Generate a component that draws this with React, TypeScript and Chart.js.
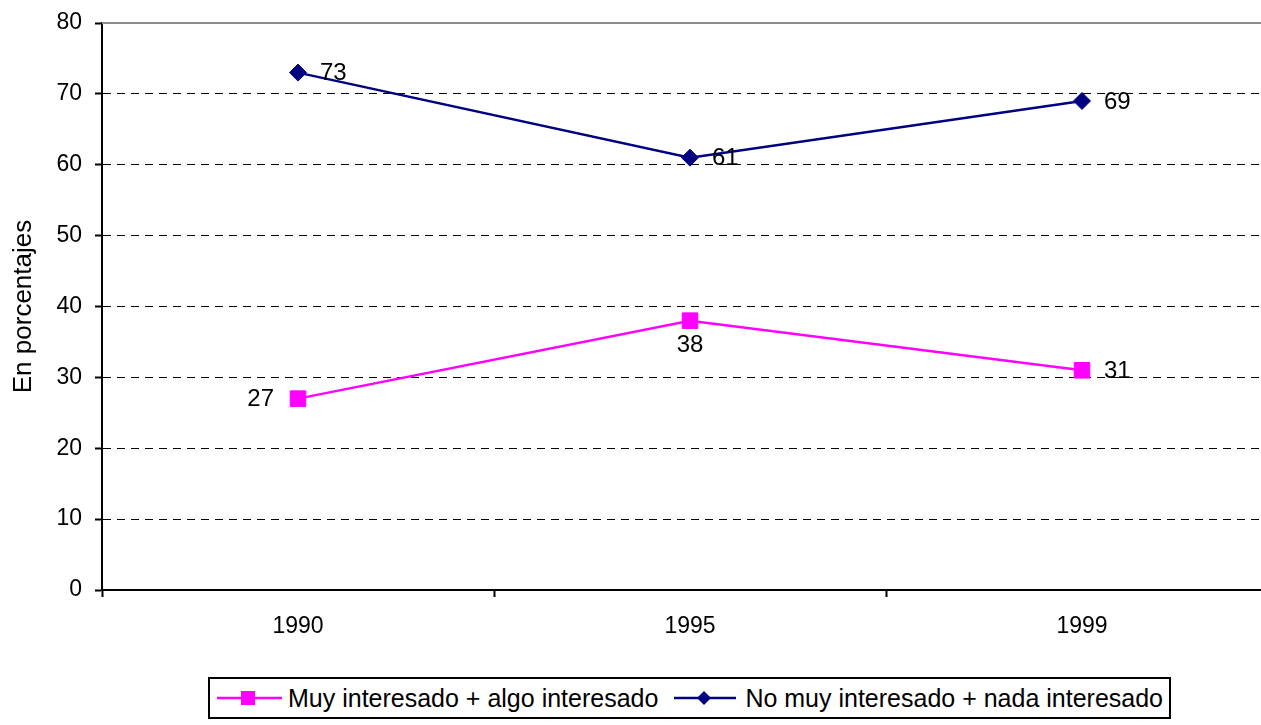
import React, { useEffect, useRef } from 'react';
import { Chart, registerables } from 'chart.js';

Chart.register(...registerables);

const categories = ['1990', '1995', '1999'];
const interesados = [27, 38, 31];
const noInteresados = [73, 61, 69];
const seriesNames = ['Muy interesado + algo interesado', 'No muy interesado + nada interesado'];
const yTitle = 'En porcentajes';
const yMin = 0;
const yMax = 80;
const yStep = 10;

const FONT = '"Liberation Sans", Arial, Helvetica, sans-serif';
const PINK = '#FF00FF';
const NAVY = '#000080';

const labelPlugin = {
  id: 'valueLabels',
  afterDatasetsDraw(chart: any) {
    const ctx = chart.ctx;
    ctx.save();
    ctx.font = `24px ${FONT}`;
    ctx.fillStyle = '#000';
    chart.data.datasets.forEach((ds: any, i: number) => {
      const meta = chart.getDatasetMeta(i);
      const pos: string[] = ds.labelPositions || [];
      meta.data.forEach((pt: any, j: number) => {
        const v = ds.data[j];
        let x = pt.x;
        let y = pt.y;
        const p = pos[j] || 'right';
        ctx.textBaseline = 'middle';
        if (p === 'right') {
          ctx.textAlign = 'left';
          x += 22;
        } else if (p === 'left') {
          ctx.textAlign = 'right';
          x -= 24;
        } else {
          ctx.textAlign = 'center';
          y += 24;
        }
        ctx.fillText(String(v), x, y + 1);
      });
    });
    ctx.restore();
  },
};

const frameTopPlugin = {
  id: 'frameTop',
  beforeDatasetsDraw(chart: any) {
    const { ctx, chartArea } = chart;
    ctx.save();
    ctx.strokeStyle = '#8c8c8c';
    ctx.lineWidth = 2;
    ctx.beginPath();
    ctx.moveTo(chartArea.left, chartArea.top);
    ctx.lineTo(chartArea.right + 20, chartArea.top);
    ctx.stroke();
    ctx.restore();
  },
};

export default function App() {
  const canvasRef = useRef<HTMLCanvasElement | null>(null);

  useEffect(() => {
    if (!canvasRef.current) return;
    const chart = new Chart(canvasRef.current, {
      type: 'line',
      data: {
        labels: categories,
        datasets: [
          {
            label: seriesNames[0],
            data: interesados,
            borderColor: PINK,
            backgroundColor: PINK,
            borderWidth: 2.5,
            pointStyle: 'rect',
            pointRadius: 11,
            pointHoverRadius: 11,
            pointBorderWidth: 1,
            tension: 0,
            labelPositions: ['left', 'below', 'right'],
          } as any,
          {
            label: seriesNames[1],
            data: noInteresados,
            borderColor: NAVY,
            backgroundColor: NAVY,
            borderWidth: 2.5,
            pointStyle: 'rectRot',
            pointRadius: 8.5,
            pointHoverRadius: 8.5,
            pointBorderWidth: 1,
            tension: 0,
            labelPositions: ['right', 'right', 'right'],
          } as any,
        ],
      },
      options: {
        animation: false,
        responsive: true,
        maintainAspectRatio: false,
        events: [],
        layout: { padding: { left: 0, top: 23, right: 9, bottom: 0 } },
        plugins: {
          legend: { display: false },
          tooltip: { enabled: false },
        },
        scales: {
          x: {
            type: 'category',
            offset: true,
            grid: {
              display: true,
              drawOnChartArea: false,
              drawTicks: true,
              tickLength: 7,
              offset: true,
              color: '#000',
              tickColor: '#000',
              tickWidth: 2,
            },
            border: { display: true, color: '#000', width: 2 },
            ticks: {
              color: '#000',
              font: { family: FONT, size: 23 },
              padding: 16,
              maxRotation: 0,
            },
            afterFit: (scale: any) => {
              scale.height = 135;
              scale.paddingLeft = 0;
              scale.paddingRight = 0;
            },
          },
          y: {
            min: yMin,
            max: yMax,
            ticks: {
              stepSize: yStep,
              color: '#000',
              font: { family: FONT, size: 23 },
              padding: 13,
            },
            grid: {
              color: (c: any) =>
                c.tick && (c.tick.value === yMin || c.tick.value === yMax) ? 'rgba(0,0,0,0)' : '#000',
              lineWidth: 1,
              tickColor: '#000',
              tickLength: 7,
              tickWidth: 2,
            },
            border: { display: true, color: '#000', width: 2, dash: [8, 6] },
            title: {
              display: true,
              text: yTitle,
              color: '#000',
              font: { family: FONT, size: 26 },
              padding: { top: 8, bottom: 0 },
            },
            afterFit: (scale: any) => {
              scale.width = 102;
              scale.paddingTop = 0;
              scale.paddingBottom = 0;
            },
          },
        },
      },
      plugins: [frameTopPlugin, labelPlugin],
    });
    return () => chart.destroy();
  }, []);

  return (
    <div style={{ position: 'fixed', left: 0, top: 0, width: '100vw', height: '100vh', overflow: 'hidden', background: '#fff' }}>
      <div style={{ position: 'absolute', left: 0, top: 0, width: 1290, height: 725 }}>
        <canvas ref={canvasRef} />
      </div>
      <div
        style={{
          position: 'absolute',
          left: 208,
          top: 677,
          width: 963,
          height: 42,
          boxSizing: 'border-box',
          border: '2px solid #000',
          background: '#fff',
          display: 'flex',
          alignItems: 'center',
          paddingLeft: 7,
          fontFamily: FONT,
          fontSize: 25,
          lineHeight: 1,
          color: '#000',
          whiteSpace: 'nowrap',
        }}
      >
        <svg width={65} height={20} style={{ display: 'block', flex: 'none' }}>
          <line x1={0} y1={10} x2={65} y2={10} stroke={PINK} strokeWidth={2.5} />
          <rect x={24} y={3} width={14} height={14} fill={PINK} />
        </svg>
        <span style={{ marginLeft: 6 }}>{seriesNames[0]}</span>
        <svg width={62} height={20} style={{ display: 'block', flex: 'none', marginLeft: 16 }}>
          <line x1={0} y1={10} x2={62} y2={10} stroke={NAVY} strokeWidth={2.5} />
          <polygon points="30,3 37,10 30,17 23,10" fill={NAVY} />
        </svg>
        <span style={{ marginLeft: 9 }}>{seriesNames[1]}</span>
      </div>
    </div>
  );
}
